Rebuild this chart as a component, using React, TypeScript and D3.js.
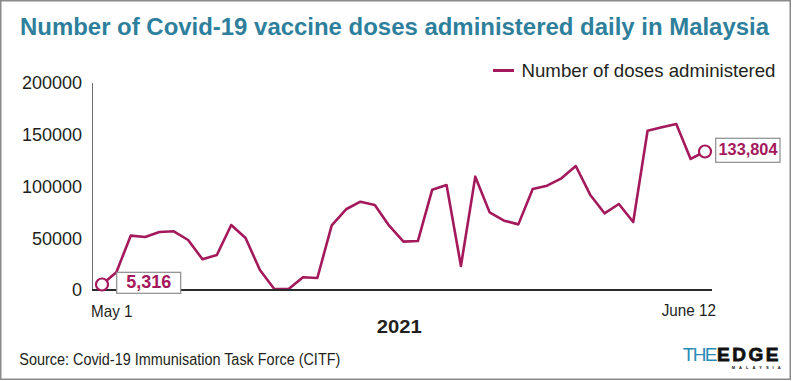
import React from "react";
import * as d3 from "d3";

const title = "Number of Covid-19 vaccine doses administered daily in Malaysia";
const seriesName = "Number of doses administered";
const startDate = new Date(2021, 4, 1);
const endDate = new Date(2021, 5, 12);
const dates = d3.timeDay.range(startDate, d3.timeDay.offset(endDate, 1));
const doses = [
  5316, 17100, 52500, 51200, 56000, 56700, 48300, 29700, 33800, 62800,
  50200, 19300, 900, 900, 12300, 11600, 62500, 78000, 85300, 82100,
  62100, 46700, 47300, 96900, 101400, 23200, 109500, 75000, 67000, 63400,
  97600, 100800, 107900, 119800, 92100, 74100, 83100, 65700, 153900, 157200,
  160400, 126600, 133804,
];
const yTicks = [0, 50000, 100000, 150000, 200000];
const xTickLabels = ["May 1", "June 12"];
const yearLabel = "2021";
const source = "Source: Covid-19 Immunisation Task Force (CITF)";

const LINE = "#a4195c";
const TEAL = "#2e7f9c";
const FONT = "'Liberation Sans', Arial, Helvetica, sans-serif";

export default function App() {
  const W = 792, H = 381;
  const x = d3.scaleTime().domain([startDate, endDate]).range([102, 705]);
  const y = d3.scaleLinear().domain([0, 200000]).range([290, 83]);
  const line = d3
    .line<number>()
    .x((_, i) => x(dates[i]))
    .y((d) => y(d));
  const fmt = d3.format(",");
  const first = doses[0];
  const last = doses[doses.length - 1];
  const fx = x(dates[0]), fy = y(first);
  const lx = x(dates[dates.length - 1]), ly = y(last);

  return (
    <svg
      width={W}
      height={H}
      style={{ position: "absolute", left: 0, top: 0, background: "#fff" }}
      fontFamily={FONT}
    >
      <rect x={0.75} y={0.75} width={789.5} height={378.5} fill="#fff" stroke="#8a8a8a" strokeWidth={1.5} />
      <text
        x={20}
        y={35}
        fontSize={23}
        fontWeight="bold"
        fill={TEAL}
        textLength={749}
        lengthAdjust="spacingAndGlyphs"
      >
        {title}
      </text>

      {/* legend */}
      <line x1={493} x2={514} y1={70.5} y2={70.5} stroke={LINE} strokeWidth={3} />
      <text x={521.5} y={77} fontSize={18.5} fill="#231f20" textLength={254} lengthAdjust="spacingAndGlyphs">
        {seriesName}
      </text>

      {/* y axis */}
      <line x1={92.5} x2={92.5} y1={y(200000)} y2={y(0)} stroke="#6d6d6d" strokeWidth={1} />
      {yTicks.map((t) => (
        <text key={t} x={82} y={y(t) + 6.3} fontSize={18} textAnchor="end" fill="#231f20">
          {t}
        </text>
      ))}

      {/* series */}
      <path d={line(doses) || ""} fill="none" stroke={LINE} strokeWidth={2.6} strokeLinejoin="round" />

      {/* x axis */}
      <line x1={92} x2={712} y1={290} y2={290} stroke="#2b2b2b" strokeWidth={1.8} />
      <text x={91} y={317.3} fontSize={16.5} fill="#231f20" textLength={41.5} lengthAdjust="spacingAndGlyphs">
        {xTickLabels[0]}
      </text>
      <text x={716} y={315.7} fontSize={16.5} fill="#231f20" textAnchor="end" textLength={54.3} lengthAdjust="spacingAndGlyphs">
        {xTickLabels[1]}
      </text>
      <text x={376.7} y={333.3} fontSize={17.5} fontWeight="bold" fill="#231f20" textLength={45} lengthAdjust="spacingAndGlyphs">
        {yearLabel}
      </text>

      {/* end markers and labels */}
      <rect x={116.7} y={272.3} width={64} height={21} fill="#fff" stroke="#8c8c8c" strokeWidth={1.2} />
      <text x={148.7} y={288} fontSize={17.5} fontWeight="bold" fill={LINE} textAnchor="middle" textLength={45} lengthAdjust="spacingAndGlyphs">
        {fmt(first)}
      </text>
      <circle cx={fx} cy={fy} r={6} fill="#fff" stroke={LINE} strokeWidth={2.2} />

      <rect x={715.7} y={138.3} width={64.3} height={24} fill="#fff" stroke="#8c8c8c" strokeWidth={1.2} />
      <text x={748} y={154.5} fontSize={17} fontWeight="bold" fill={LINE} textAnchor="middle" textLength={59} lengthAdjust="spacingAndGlyphs">
        {fmt(last)}
      </text>
      <circle cx={lx} cy={ly} r={6} fill="#fff" stroke={LINE} strokeWidth={2.2} />

      {/* source */}
      <text x={19.3} y={365} fontSize={16} fill="#231f20" textLength={321} lengthAdjust="spacingAndGlyphs">
        {source}
      </text>

      {/* logo */}
      <text x={682.7} y={361} fontSize={19}>
        <tspan fontWeight={300} fill="#2a8bb5" letterSpacing={-1.6}>THE</tspan>
        <tspan fontWeight="bold" fill="#111" stroke="#111" strokeWidth={0.8} letterSpacing={2.6} dx={1}>EDGE</tspan>
      </text>
      <text x={731.7} y={368.5} fontSize={4} fontWeight="bold" fill="#111" textLength={49} lengthAdjust="spacing">
        MALAYSIA
      </text>
    </svg>
  );
}
